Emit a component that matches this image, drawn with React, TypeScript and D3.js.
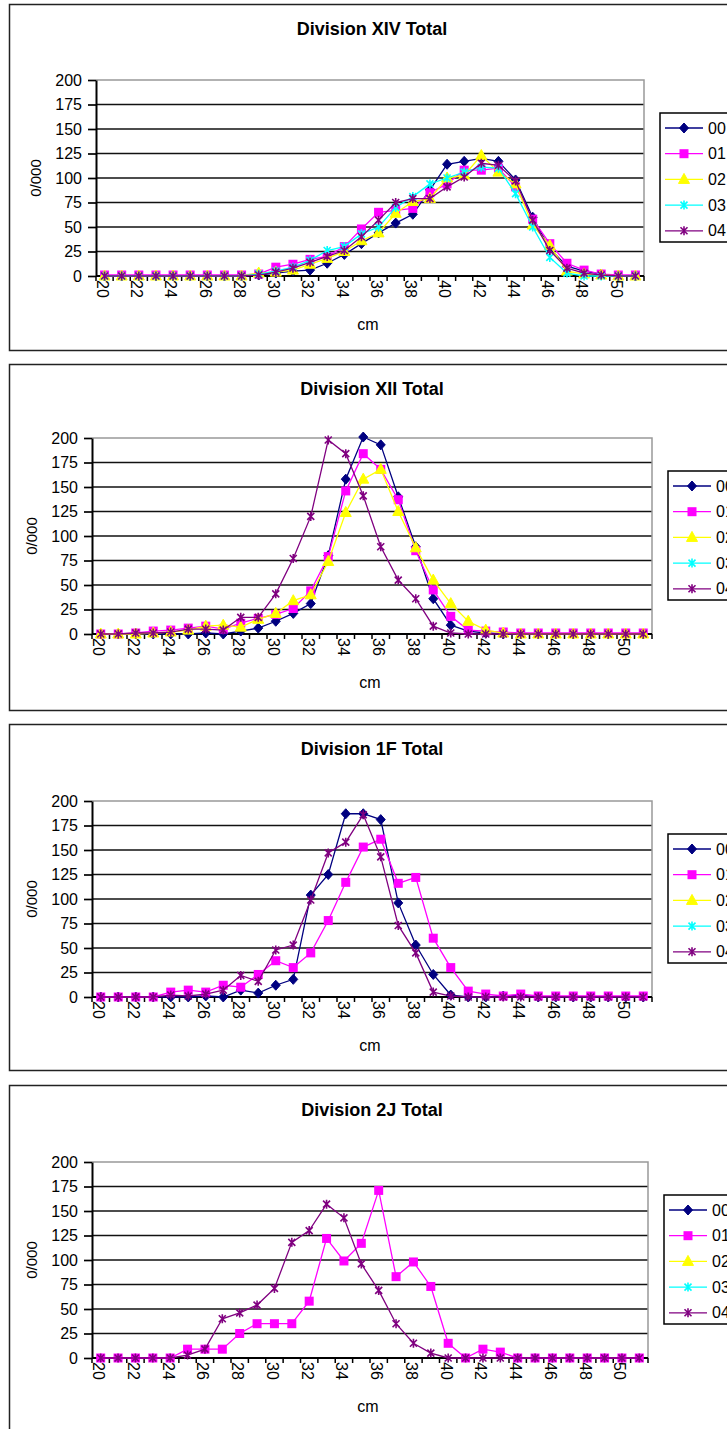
import React from "react";
import * as d3 from "d3";

// length classes (cm) and axis labels
const lengths = d3.range(20, 52);
const lengthLabels = lengths.filter((d) => d % 2 === 0);
const yTicks = [0, 25, 50, 75, 100, 125, 150, 175, 200];
const seriesNames = ["00", "01", "02", "03", "04"];
const panelTitles = ["Division XIV Total", "Division XII Total", "Division 1F Total", "Division 2J Total"];

// Division XIV
const xiv00 = [0, 0, 0, 0, 0, 0, 0, 0, 0, 1, 3, 5, 6, 13, 22, 33, 44, 54, 63, 88, 114, 117, 120, 117, 98, 60, 28, 10, 5, 2, 0, 0];
const xiv01 = [1, 1, 1, 1, 1, 1, 1, 1, 1, 2, 9, 12, 17, 20, 30, 48, 65, 67, 69, 85, 94, 108, 108, 110, 91, 58, 33, 13, 6, 2, 1, 1];
const xiv02 = [0, 0, 0, 0, 0, 0, 0, 0, 0, 3, 4, 6, 12, 18, 25, 36, 44, 64, 76, 79, 100, 103, 123, 106, 94, 52, 31, 5, 2, 1, 0, 0];
const xiv03 = [0, 0, 0, 0, 0, 0, 0, 0, 0, 2, 5, 9, 16, 26, 30, 43, 50, 70, 81, 94, 100, 106, 111, 110, 84, 50, 19, 3, 0, 0, 0, 0];
const xiv04 = [0, 0, 0, 0, 0, 0, 0, 0, 0, 1, 4, 8, 14, 20, 26, 40, 57, 75, 79, 79, 91, 101, 115, 113, 97, 57, 26, 8, 3, 1, 0, 0];

// Division XII
const xii00 = [0, 0, 0, 0, 0, 0, 1, 0, 3, 6, 13, 21, 31, 80, 158, 201, 193, 140, 89, 36, 9, 3, 1, 0, 0, 0, 0, 0, 0, 0, 0, 0];
const xii01 = [0, 0, 1, 3, 4, 6, 8, 5, 11, 16, 20, 26, 44, 79, 146, 184, 168, 137, 85, 45, 18, 4, 3, 2, 1, 1, 1, 1, 1, 1, 1, 1];
const xii02 = [0, 0, 0, 1, 2, 4, 8, 9, 7, 15, 21, 34, 40, 74, 124, 158, 168, 125, 88, 55, 31, 13, 4, 1, 0, 0, 0, 0, 0, 0, 0, 0];
const xii04 = [0, 0, 1, 1, 2, 5, 5, 4, 17, 17, 41, 77, 120, 198, 184, 141, 89, 55, 36, 8, 1, 0, 0, 0, 0, 0, 0, 0, 0, 0, 0, 0];

// Division 1F
const f1F00 = [0, 0, 0, 0, 0, 0, 1, 0, 7, 4, 12, 18, 104, 125, 187, 187, 181, 96, 53, 23, 2, 0, 0, 1, 2, 0, 0, 0, 0, 0, 0, 0];
const f1F01 = [0, 0, 0, 0, 5, 7, 5, 12, 10, 23, 37, 30, 45, 78, 117, 153, 161, 116, 122, 60, 30, 6, 3, 1, 3, 1, 1, 1, 1, 1, 1, 1];
const f1F04 = [0, 0, 0, 0, 2, 1, 3, 7, 22, 16, 48, 53, 99, 147, 158, 186, 143, 73, 45, 5, 1, 0, 0, 0, 0, 0, 0, 0, 0, 0, 0, 0];

// Division 2J
const j2J01 = [0, 0, 0, 0, 0, 9, 9, 9, 25, 35, 35, 35, 58, 122, 99, 117, 171, 83, 98, 73, 15, 0, 9, 6, 0, 0, 0, 0, 0, 0, 0, 0];
const j2J04 = [0, 0, 0, 0, 0, 3, 9, 40, 46, 54, 71, 118, 130, 157, 143, 96, 69, 35, 15, 5, 0, 0, 0, 0, 0, 0, 0, 0, 0, 0, 0, 0];

const panelSeries = [
  [xiv00, xiv01, xiv02, xiv03, xiv04],
  [xii00, xii01, xii02, null, xii04],
  [f1F00, f1F01, null, null, f1F04],
  [null, j2J01, null, null, j2J04],
];

// layout
const frameTops = [4, 364, 724, 1085];
const plotTops = [80, 438, 801, 1162];
const plotLefts = [96, 92, 92, 92];
const plotRights = [644, 652, 652, 648];
const plotH = 196;
const colors = ["#000080", "#FF00FF", "#FFFF00", "#00FFFF", "#800080"];
const font = "'Liberation Sans', Arial, sans-serif";

function drawMarker(g, k, color) {
  if (k === 0) {
    g.append("path").attr("d", "M0,-5L4.5,0L0,5L-4.5,0Z").attr("fill", color).attr("stroke", color);
  } else if (k === 1) {
    g.append("rect").attr("x", -4.5).attr("y", -4.5).attr("width", 9).attr("height", 9).attr("fill", color);
  } else if (k === 2) {
    g.append("path").attr("d", "M0,-6L5.5,4L-5.5,4Z").attr("fill", color).attr("stroke", color);
  } else {
    g.append("path")
      .attr("d", "M-3.5,-3.5L3.5,3.5M-3.5,3.5L3.5,-3.5M0,-4.5V4.5")
      .attr("fill", "none")
      .attr("stroke", color)
      .attr("stroke-width", 1.6);
  }
}

export default function App() {
  const svgRef = React.useRef(null);

  React.useEffect(() => {
    const svg = d3.select(svgRef.current);
    svg.selectAll("*").remove();

    panelSeries.forEach((series, p) => {
      const top = plotTops[p];
      const bottom = top + plotH;
      const left = plotLefts[p];
      const right = plotRights[p];
      const x = d3.scaleBand().domain(lengths).range([left, right]);
      const y = d3.scaleLinear().domain([0, 200]).range([bottom, top]);
      const cx = (d) => x(d) + x.bandwidth() / 2;
      const g = svg.append("g");

      // frame
      g.append("rect")
        .attr("x", 9.5).attr("y", frameTops[p] + 0.5)
        .attr("width", 760).attr("height", 346)
        .attr("fill", "#fff").attr("stroke", "#222").attr("stroke-width", 1.5);

      g.append("text")
        .attr("x", 372).attr("y", frameTops[p] + 31)
        .attr("text-anchor", "middle")
        .attr("font-family", font).attr("font-weight", "bold").attr("font-size", 18)
        .text(panelTitles[p]);

      // gridlines + plot border
      g.selectAll(".grid")
        .data(yTicks.filter((t) => t > 0 && t < 200))
        .enter().append("line")
        .attr("x1", left).attr("x2", right)
        .attr("y1", (d) => y(d)).attr("y2", (d) => y(d))
        .attr("stroke", "#111").attr("stroke-width", 1.7);
      g.append("path")
        .attr("d", `M${left},${y(200)}H${right}V${bottom}`)
        .attr("fill", "none").attr("stroke", "#999").attr("stroke-width", 1.5);

      // y axis
      const yAxis = g.append("g")
        .attr("transform", `translate(${left},0)`)
        .call(d3.axisLeft(y).tickValues(yTicks).tickSize(8).tickSizeOuter(0).tickPadding(6));
      yAxis.select(".domain").attr("stroke", "#000").attr("stroke-width", 2);
      yAxis.selectAll("line").attr("stroke", "#000").attr("stroke-width", 1.7);
      yAxis.selectAll("text").attr("font-family", font).attr("font-size", 16).attr("fill", "#000");

      // x axis
      g.append("line")
        .attr("x1", left).attr("x2", right).attr("y1", bottom).attr("y2", bottom)
        .attr("stroke", "#000").attr("stroke-width", 2);
      g.selectAll(".xtick")
        .data(d3.range(lengths.length + 1))
        .enter().append("line")
        .attr("x1", (i) => left + i * x.step()).attr("x2", (i) => left + i * x.step())
        .attr("y1", bottom).attr("y2", bottom + 5)
        .attr("stroke", "#000").attr("stroke-width", 1.5);
      g.selectAll(".xlab")
        .data(lengthLabels)
        .enter().append("text")
        .attr("transform", (d) => `translate(${cx(d) - 2},${bottom + 4}) rotate(90)`)
        .attr("dy", "0.35em")
        .attr("font-family", font).attr("font-size", 16)
        .text((d) => d);

      g.append("text")
        .attr("x", (left + right) / 2 - 2).attr("y", bottom + 54)
        .attr("text-anchor", "middle")
        .attr("font-family", font).attr("font-size", 16)
        .text("cm");
      g.append("text")
        .attr("transform", `translate(${left - 55},${(top + bottom) / 2}) rotate(-90)`)
        .attr("text-anchor", "middle")
        .attr("font-family", font).attr("font-size", 15)
        .text("0/000");

      // series
      const line = d3.line().x((d, i) => cx(lengths[i])).y((d) => y(d));
      series.forEach((vals, k) => {
        if (!vals) return;
        const sg = g.append("g");
        sg.append("path")
          .attr("d", line(vals))
          .attr("fill", "none").attr("stroke", colors[k]).attr("stroke-width", 1.3);
        vals.forEach((v, i) => {
          const m = sg.append("g").attr("transform", `translate(${cx(lengths[i])},${y(v)})`);
          drawMarker(m, k, colors[k]);
        });
      });

      // legend
      const mid = (top + bottom) / 2;
      const lx = right + 16;
      const lg = g.append("g").attr("transform", `translate(${lx},${mid - 65})`);
      lg.append("rect")
        .attr("x", 0).attr("y", 0).attr("width", 120).attr("height", 129)
        .attr("fill", "#fff").attr("stroke", "#000").attr("stroke-width", 1.5);
      seriesNames.forEach((name, k) => {
        const ly = 15 + k * 25.7;
        lg.append("line")
          .attr("x1", 5).attr("x2", 43).attr("y1", ly).attr("y2", ly)
          .attr("stroke", colors[k]).attr("stroke-width", 1.3);
        drawMarker(lg.append("g").attr("transform", `translate(24,${ly})`), k, colors[k]);
        lg.append("text")
          .attr("x", 48).attr("y", ly).attr("dy", "0.35em")
          .attr("font-family", font).attr("font-size", 16)
          .text(name);
      });
    });
  }, []);

  return (
    <svg
      ref={svgRef}
      width={727}
      height={1429}
      style={{ position: "absolute", left: 0, top: 0, background: "#fff" }}
    />
  );
}
